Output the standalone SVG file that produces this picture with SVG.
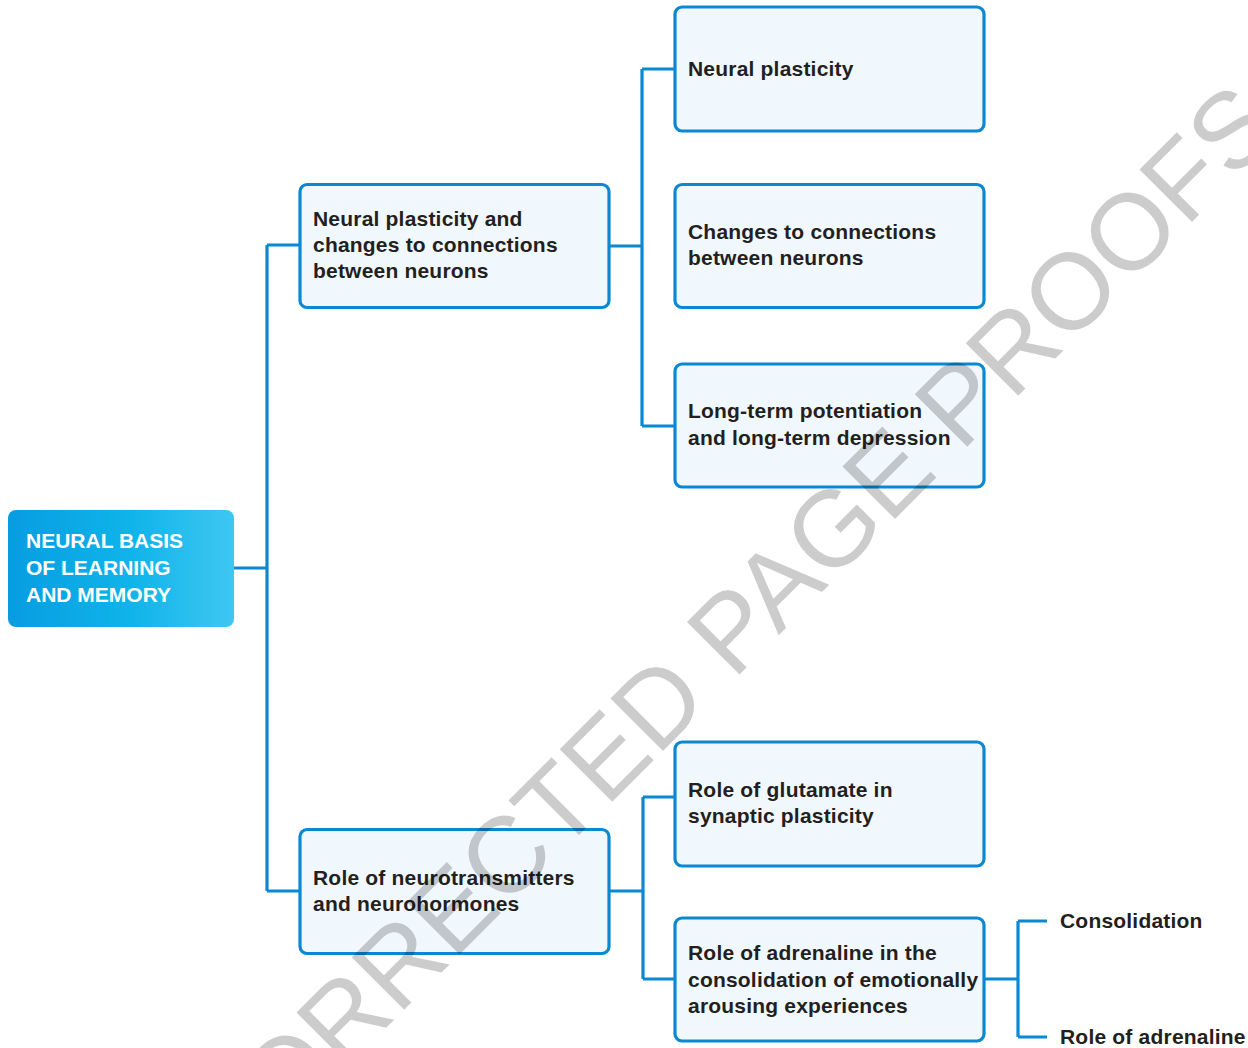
<svg xmlns="http://www.w3.org/2000/svg" width="1248" height="1048" viewBox="0 0 1248 1048">
<defs>
<linearGradient id="rootGrad" x1="0" y1="0" x2="1" y2="0">
<stop offset="0" stop-color="#069de0"/>
<stop offset="0.55" stop-color="#10b4ea"/>
<stop offset="1" stop-color="#3ec7f2"/>
</linearGradient>
<style>
.box{fill:#f1f8fd;stroke:#0b88d2;stroke-width:3.2}
.conn{fill:none;stroke:#0b88d2;stroke-width:3.2}
.lbl{font-family:"Liberation Sans",Arial,Helvetica,sans-serif;font-weight:bold;font-size:21px;fill:#231f20;letter-spacing:0.2px}
.root{font-family:"Liberation Sans",Arial,Helvetica,sans-serif;font-weight:bold;font-size:21px;fill:#ffffff}
.wm{font-family:"Liberation Sans",Arial,Helvetica,sans-serif;font-size:108px;fill:#000000;fill-opacity:0.2}
</style>
</defs>
<rect width="1248" height="1048" fill="#ffffff"/>
<g id="connectors">
<path class="conn" d="M234 568 H267 M267 245 V891 M267 245 H300 M267 891 H300"/>
<path class="conn" d="M609 246 H642 M642 69 V426 M642 69 H675 M642 426 H675"/>
<path class="conn" d="M609 891 H643 M643 797 V979 M643 797 H675 M643 979 H675"/>
<path class="conn" d="M984 979 H1018 M1018 921 V1037 M1018 921 H1047 M1018 1037 H1047"/>
</g>
<g id="root">
<rect x="8" y="510" width="226" height="117" rx="8" fill="url(#rootGrad)"/>
<text class="root" x="26" y="548">NEURAL BASIS</text>
<text class="root" x="26" y="575">OF LEARNING</text>
<text class="root" x="26" y="602">AND MEMORY</text>
</g>
<g id="n-plasticity-changes">
<rect class="box" x="300" y="184.5" width="309" height="123" rx="7"/>
<text class="lbl" x="313" y="226">Neural plasticity and</text>
<text class="lbl" x="313" y="252">changes to connections</text>
<text class="lbl" x="313" y="278">between neurons</text>
</g>
<g id="n-neural-plasticity">
<rect class="box" x="675" y="7" width="309" height="124" rx="7"/>
<text class="lbl" x="688" y="76">Neural plasticity</text>
</g>
<g id="n-changes">
<rect class="box" x="675" y="184.5" width="309" height="123" rx="7"/>
<text class="lbl" x="688" y="239">Changes to connections</text>
<text class="lbl" x="688" y="265">between neurons</text>
</g>
<g id="n-ltp">
<rect class="box" x="675" y="364" width="309" height="123" rx="7"/>
<text class="lbl" x="688" y="418">Long-term potentiation</text>
<text class="lbl" x="688" y="445">and long-term depression</text>
</g>
<g id="n-neurotransmitters">
<rect class="box" x="300" y="829.5" width="309" height="124" rx="7"/>
<text class="lbl" x="313" y="885">Role of neurotransmitters</text>
<text class="lbl" x="313" y="911">and neurohormones</text>
</g>
<g id="n-glutamate">
<rect class="box" x="675" y="742" width="309" height="124" rx="7"/>
<text class="lbl" x="688" y="797">Role of glutamate in</text>
<text class="lbl" x="688" y="823">synaptic plasticity</text>
</g>
<g id="n-adrenaline">
<rect class="box" x="675" y="918" width="309" height="123" rx="7"/>
<text class="lbl" x="688" y="960">Role of adrenaline in the</text>
<text class="lbl" x="688" y="987">consolidation of emotionally</text>
<text class="lbl" x="688" y="1013">arousing experiences</text>
</g>
<g id="n-consolidation">
<text class="lbl" x="1060" y="928">Consolidation</text>
</g>
<g id="n-role-adrenaline">
<text class="lbl" x="1060" y="1044">Role of adrenaline</text>
</g>
<g id="watermark">
<text class="wm" transform="translate(118 1296) rotate(-45)">UNCORRECTED PAGE PROOFS</text>
</g>
</svg>
